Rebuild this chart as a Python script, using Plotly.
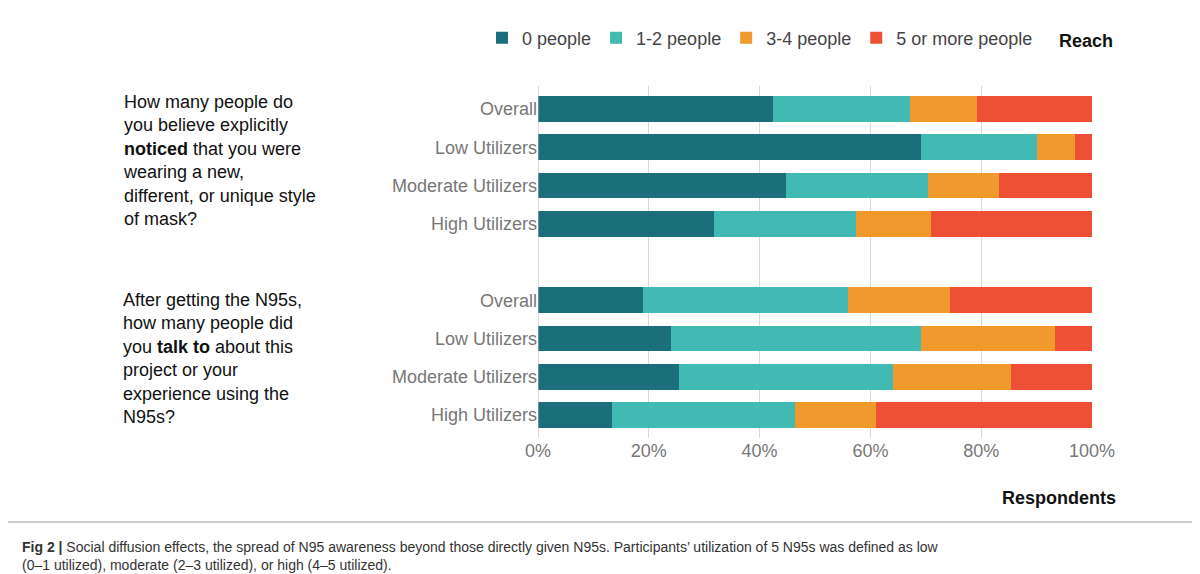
import plotly.graph_objects as go

rows = ["q1_all", "q1_low", "q1_mod", "q1_high", "gap", "q2_all", "q2_low", "q2_mod", "q2_high"]
row_labels = ["Overall", "Low Utilizers", "Moderate Utilizers", "High Utilizers", "",
              "Overall", "Low Utilizers", "Moderate Utilizers", "High Utilizers"]
bar_rows = ["q1_all", "q1_low", "q1_mod", "q1_high", "q2_all", "q2_low", "q2_mod", "q2_high"]
series = ["0 people", "1-2 people", "3-4 people", "5 or more people"]
colors = ["#1b6f7b", "#42bab4", "#f0992d", "#ee5035"]
v0 = [42.4, 69.1, 44.8, 31.8, 19.0, 24.0, 25.5, 13.4]
v12 = [24.7, 21.0, 25.6, 25.6, 37.0, 45.1, 38.6, 33.0]
v34 = [12.1, 6.8, 12.8, 13.5, 18.4, 24.2, 21.3, 14.6]
v5 = [20.8, 3.1, 16.8, 29.1, 25.6, 6.7, 14.6, 39.0]
values = [v0, v12, v34, v5]
xticks = [0, 20, 40, 60, 80, 100]
xtick_text = ["0%", "20%", "40%", "60%", "80%", "100%"]

L, R, T, B = 530, 1084, 78, 430
W, H = R - L, B - T

fig = go.Figure()
for name, col, vals in zip(series, colors, values):
    fig.add_trace(go.Bar(y=bar_rows, x=vals, name=name, orientation="h",
                         marker=dict(color=col, line=dict(width=0))))

font = "Liberation Sans, Arial, sans-serif"
fig.update_layout(
    barmode="stack", bargap=0.33, width=1200, height=574, autosize=False,
    margin=dict(l=L, r=1200 - R, t=T, b=574 - B, autoexpand=False),
    paper_bgcolor="white", plot_bgcolor="white",
    font=dict(family=font, color="#222"),
    legend=dict(orientation="h", x=(1030 - L) / W, xanchor="right", y=(B - 30) / H, yanchor="middle",
                font=dict(size=18, color="#444"), traceorder="normal",
                bgcolor="rgba(0,0,0,0)"),
    xaxis=dict(range=[0, 100], tickvals=xticks, ticktext=xtick_text,
               showgrid=True, gridcolor="#d9d9d9", gridwidth=1, zeroline=False,
               showline=False, tickfont=dict(size=18, color="#777"), ticks="",
               automargin=False),
    yaxis=dict(categoryorder="array", categoryarray=rows[::-1], tickmode="array",
               tickvals=rows, ticktext=row_labels, tickfont=dict(size=18, color="#777"),
               ticks="", showgrid=False, range=[-0.6, 8.6], automargin=False),
)
fig.add_shape(type="line", xref="x", yref="paper", x0=0, x1=0, y0=0, y1=1,
              line=dict(color="#bbb", width=1))

def px(x):
    return (x - L) / W

def py(y):
    return (B - y) / H

ann = [
    dict(x=1107, y=33, text="<b>Reach</b>", xanchor="right", size=18),
    dict(x=1110, y=490, text="<b>Respondents</b>", xanchor="right", size=18),
    dict(x=113, y=152, text="How many people do<br>you believe explicitly<br><b>noticed</b> that you were<br>wearing a new,<br>different, or unique style<br>of mask?", xanchor="left", size=18, align="left"),
    dict(x=113, y=350, text="After getting the N95s,<br>how many people did<br>you <b>talk to</b> about this<br>project or your<br>experience using the<br>N95s?", xanchor="left", size=18, align="left"),
    dict(x=12, y=548, text="<b>Fig 2 |</b> Social diffusion effects, the spread of N95 awareness beyond those directly given N95s. Participants’ utilization of 5 N95s was defined as low<br>(0–1 utilized), moderate (2–3 utilized), or high (4–5 utilized).", xanchor="left", size=14, align="left", color="#333"),
]
for a in ann:
    fig.add_annotation(x=px(a["x"]), y=py(a["y"]), xref="paper", yref="paper",
                       text=a["text"], showarrow=False, xanchor=a["xanchor"], yanchor="middle",
                       align=a.get("align", "center"),
                       font=dict(size=a["size"], color=a.get("color", "#111"), family=font))
fig.add_shape(type="line", xref="paper", yref="paper", x0=px(0), x1=px(1200),
              y0=py(514), y1=py(514), line=dict(color="#999", width=1))
fig.write_html("out.html")
